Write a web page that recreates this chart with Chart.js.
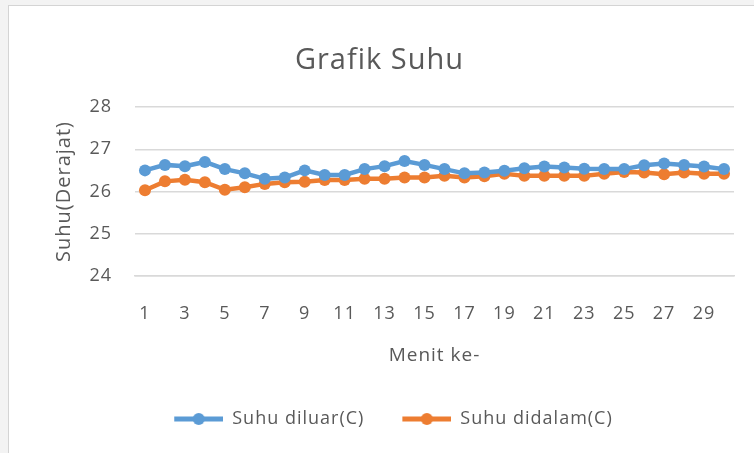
<!DOCTYPE html>
<html>
<head>
<meta charset="utf-8">
<script src="https://cdn.jsdelivr.net/npm/chart.js@4"></script>
<style>
  html, body { margin:0; padding:0; background:#f3f3f3; width:754px; height:453px; overflow:hidden; }
  #frame { position:absolute; left:8px; top:5px; width:746px; height:448px; background:#fff; border-left:1px solid #d4d4d4; border-top:1px solid #d4d4d4; box-sizing:border-box; }
  #chart { position:absolute; left:0; top:0; }
</style>
</head>
<body>
<div id="frame"><canvas id="chart" width="746" height="448"></canvas></div>
<script>
const menit = [1,2,3,4,5,6,7,8,9,10,11,12,13,14,15,16,17,18,19,20,21,22,23,24,25,26,27,28,29,30];
const suhuDiluar = [26.5,26.63,26.6,26.7,26.53,26.43,26.3,26.33,26.5,26.39,26.39,26.53,26.6,26.72,26.63,26.53,26.43,26.45,26.49,26.55,26.59,26.57,26.54,26.53,26.53,26.62,26.66,26.63,26.59,26.53];
const suhuDidalam = [26.03,26.24,26.28,26.22,26.04,26.1,26.18,26.22,26.23,26.27,26.27,26.3,26.3,26.33,26.33,26.37,26.33,26.36,26.42,26.37,26.37,26.37,26.37,26.42,26.46,26.45,26.41,26.45,26.42,26.42];
const yTicks = [24,25,26,27,28];

const BLUE = '#5b9bd5', ORANGE = '#ed7d31', GREY = '#595959';
const FONT = '"Open Sans", Lato, sans-serif';

// legend icon: line with a dot; the blank strip on the left is the gap between items
function legendIcon(color) {
  const c = document.createElement('canvas');
  c.width = 77; c.height = 14;
  const x = c.getContext('2d');
  x.strokeStyle = color; x.lineWidth = 5;
  x.beginPath(); x.moveTo(28,7); x.lineTo(77,7); x.stroke();
  x.fillStyle = color; x.beginPath(); x.arc(52.5,7,6,0,Math.PI*2); x.fill();
  return c;
}

// the office-style text is a little spaced out
const spacing = { id:'spacing',
  beforeUpdate:(c)=>{ c.ctx.letterSpacing = '1px'; },
  beforeDraw:(c)=>{ c.ctx.letterSpacing = '1px'; } };

const ctx = document.getElementById('chart').getContext('2d');
new Chart(ctx, {
  type:'line',
  data:{ labels: menit, datasets:[
    {label:'Suhu diluar(C)', data:suhuDiluar, borderColor:BLUE, backgroundColor:BLUE, borderWidth:4.5, pointRadius:6, pointBorderWidth:0, tension:0},
    {label:'Suhu didalam(C)', data:suhuDidalam, borderColor:ORANGE, backgroundColor:ORANGE, borderWidth:4.5, pointRadius:6, pointBorderWidth:0, tension:0}
  ]},
  plugins:[spacing],
  options:{ responsive:false, animation:false,
    layout:{ padding:{left:16, right:21, top:0, bottom:16} },
    plugins:{
      title:{ display:true, text:'Grafik Suhu', color:GREY, font:{family:FONT, size:29, weight:'normal'}, padding:{top:37.6, bottom:28.6} },
      legend:{ position:'bottom', labels:{ usePointStyle:true, pointStyleWidth:77, padding:10, color:GREY, font:{family:FONT, size:18},
        generateLabels:(chart)=>chart.data.datasets.map((d,i)=>({ text:d.label, pointStyle:legendIcon(d.borderColor), fontColor:GREY, datasetIndex:i, lineWidth:0, hidden:false })) } },
      tooltip:{ enabled:false }
    },
    scales:{
      x:{ offset:true, grid:{display:false, drawTicks:false}, border:{display:true, color:'#d9d9d9', width:1.5},
        ticks:{ autoSkip:false, maxRotation:0, padding:27, color:GREY, font:{family:FONT, size:18},
          callback:(v,i)=> i%2===0 ? String(menit[i]) : '' },
        title:{ display:true, text:'Menit ke-', color:GREY, font:{family:FONT, size:19}, padding:{top:0, bottom:32.6} },
        afterFit:(s)=>{ s.height = 124; } },
      y:{ min:yTicks[0], max:yTicks[yTicks.length-1], grid:{color:'#d9d9d9', lineWidth:1.5, drawTicks:false}, border:{display:false},
        afterBuildTicks:(s)=>{ s.ticks = yTicks.map(v=>({value:v})); },
        ticks:{ padding:23, color:GREY, font:{family:FONT, size:18} },
        title:{ display:true, text:'Suhu(Derajat)', color:GREY, font:{family:FONT, size:20}, padding:{top:27, bottom:0} },
        afterFit:(s)=>{ s.width = 110; } }
    }
  }
});
</script>
</body>
</html>
